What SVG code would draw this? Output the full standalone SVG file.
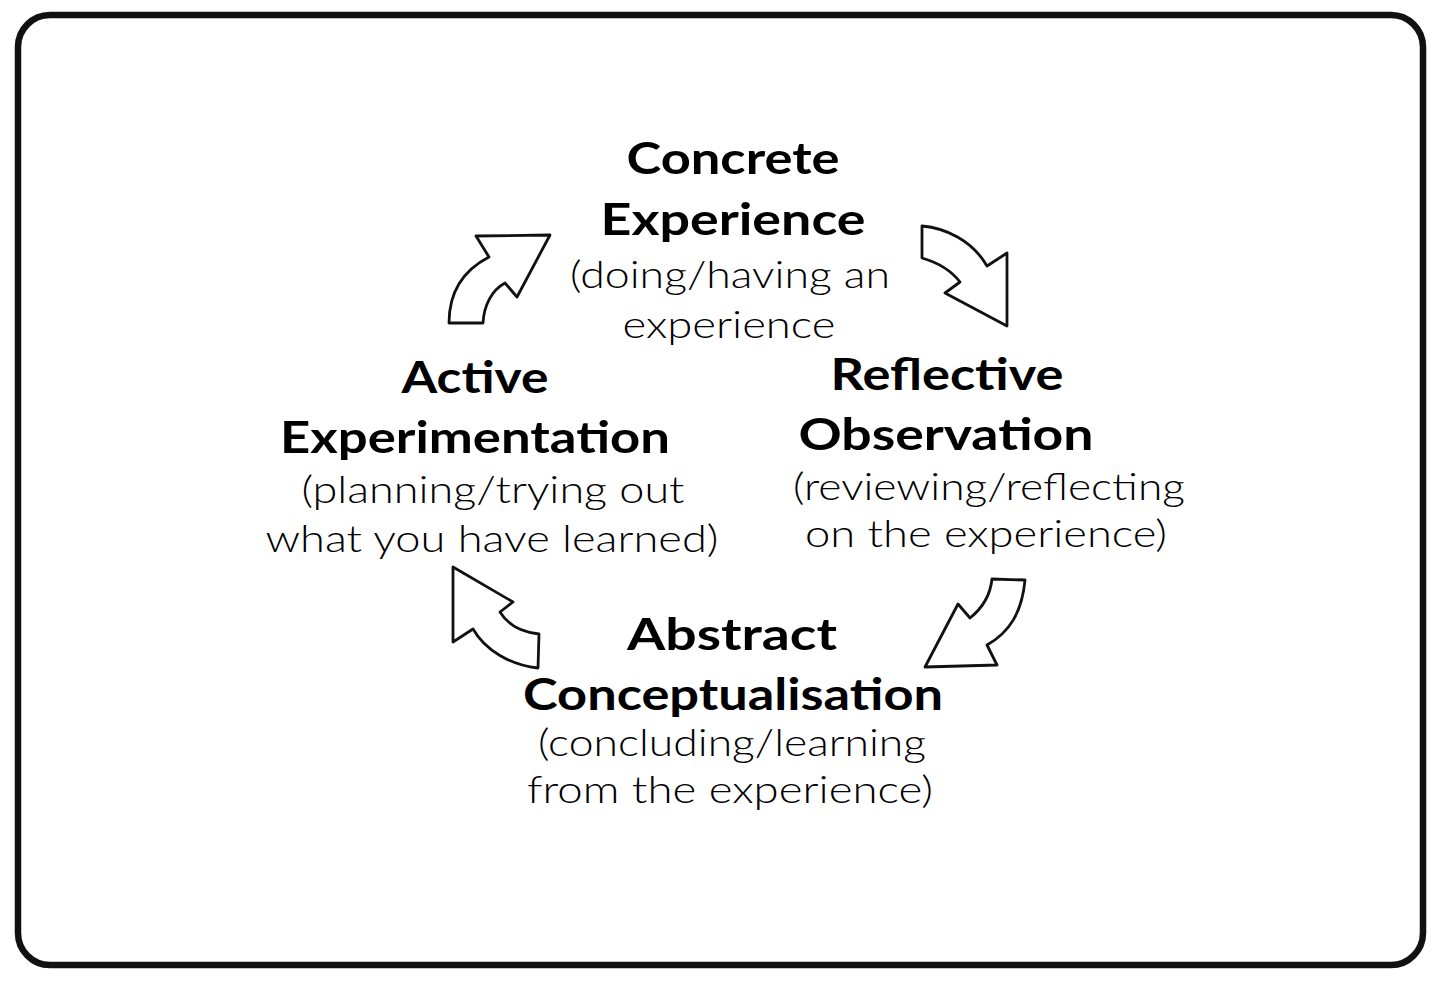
<svg xmlns="http://www.w3.org/2000/svg" width="1440" height="983" viewBox="0 0 1440 983">
<style>
.t{font-family:Lato,"Noto Sans",sans-serif;font-weight:700;font-size:44px;fill:#000;text-anchor:middle}
.s{font-family:Lato,"Noto Sans",sans-serif;font-weight:300;font-size:37px;fill:#000;text-anchor:middle}
.a{fill:#fff;stroke:#111;stroke-width:2.8;stroke-linejoin:round}
</style>
<rect x="0" y="0" width="1440" height="983" fill="#fff"/>
<rect id="frame" x="18" y="15" width="1405" height="950" rx="32" ry="32" fill="none" stroke="#111" stroke-width="6.5"/>
<g id="concrete-experience">
<text class="t" x="733" y="174" textLength="213" lengthAdjust="spacingAndGlyphs">Concrete</text>
<text class="t" x="733" y="235" textLength="265" lengthAdjust="spacingAndGlyphs">Experience</text>
<text class="s" x="730" y="288" textLength="320" lengthAdjust="spacingAndGlyphs">(doing/having an</text>
<text class="s" x="729" y="338" textLength="213" lengthAdjust="spacingAndGlyphs">experience</text>
</g>
<g id="reflective-observation">
<text class="t" x="947" y="390" textLength="233" lengthAdjust="spacingAndGlyphs">Reflective</text>
<text class="t" x="946" y="450" textLength="295" lengthAdjust="spacingAndGlyphs">Observation</text>
<text class="s" x="989" y="500" textLength="392" lengthAdjust="spacingAndGlyphs">(reviewing/reflecting</text>
<text class="s" x="986" y="547" textLength="362" lengthAdjust="spacingAndGlyphs">on the experience)</text>
</g>
<g id="abstract-conceptualisation">
<text class="t" x="732" y="650" textLength="210" lengthAdjust="spacingAndGlyphs">Abstract</text>
<text class="t" x="733" y="710" textLength="420" lengthAdjust="spacingAndGlyphs">Conceptualisation</text>
<text class="s" x="732" y="756" textLength="388" lengthAdjust="spacingAndGlyphs">(concluding/learning</text>
<text class="s" x="730" y="803" textLength="406" lengthAdjust="spacingAndGlyphs">from the experience)</text>
</g>
<g id="active-experimentation">
<text class="t" x="475" y="393" textLength="147" lengthAdjust="spacingAndGlyphs">Active</text>
<text class="t" x="475" y="453" textLength="390" lengthAdjust="spacingAndGlyphs">Experimentation</text>
<text class="s" x="493" y="503" textLength="383" lengthAdjust="spacingAndGlyphs">(planning/trying out</text>
<text class="s" x="492" y="552" textLength="453" lengthAdjust="spacingAndGlyphs">what you have learned)</text>
</g>
<g id="connectors">
<path class="a" d="M476,236 L550,235 L517,297 L505,283 C492,290 484,305 483,323 L449,323 C449,295 460,272 489,257 Z"/>
<path class="a" d="M922,226 C945,228 972,240 987,266 L1007,253 L1007,326 L945,293 L960,282 C953,273 943,264 922,258 Z"/>
<path class="a" d="M992,579 L1025,580 C1022,612 1010,632 987,645 L997,665 L925,667 L958,604 L970,618 C980,610 990,598 992,579 Z"/>
<path class="a" d="M453,567 L513,602 L500,612 C508,625 520,632 539,634 L538,668 C510,665 485,650 473,629 L453,642 Z"/>
</g>
</svg>
